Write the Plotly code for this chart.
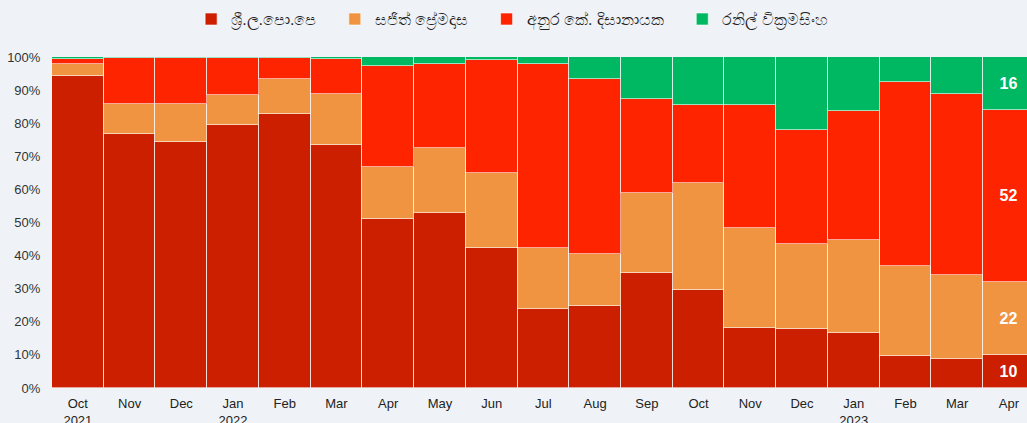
import plotly.graph_objects as go

months = ["Oct<br>2021", "Nov", "Dec", "Jan<br>2022", "Feb", "Mar", "Apr", "May", "Jun",
          "Jul", "Aug", "Sep", "Oct", "Nov", "Dec", "Jan<br>2023", "Feb", "Mar", "Apr"]

series_names = ["ශ්‍රී.ල.පො.පෙ", "සජිත් ප්‍රේමදාස", "අනුර කේ. දිසානායක", "රනිල් වික්‍රමසිංහ"]

slpp = [94.3, 76.7, 74.3, 79.5, 82.7, 73.4, 51.0, 52.9, 42.3, 23.9, 24.8, 34.7, 29.6, 18.1, 17.8, 16.6, 9.7, 8.8, 10]
sajith = [3.6, 9.1, 11.5, 9.0, 10.7, 15.5, 15.8, 19.6, 22.7, 18.4, 15.7, 24.2, 32.3, 30.2, 25.7, 28.1, 27.2, 25.3, 22]
akd = [1.6, 13.9, 13.9, 11.2, 6.3, 10.5, 30.5, 25.3, 34.0, 55.7, 52.9, 28.3, 23.5, 37.1, 34.4, 39.1, 55.5, 54.7, 52]
ranil = [0.5, 0.3, 0.3, 0.3, 0.3, 0.6, 2.7, 2.2, 1.0, 2.0, 6.6, 12.8, 14.6, 14.6, 22.1, 16.2, 7.6, 11.2, 16]

colors = ["#cc1f00", "#f09442", "#ff2400", "#00b862"]
y_ticks = [0, 10, 20, 30, 40, 50, 60, 70, 80, 90, 100]
y_tick_text = [f"{v}%" for v in y_ticks]

x = list(range(len(months)))
fig = go.Figure()
for name, vals, col in zip(series_names, [slpp, sajith, akd, ranil], colors):
    labels = ["" for _ in vals]
    labels[-1] = f"<b>{round(vals[-1])}</b>"
    fig.add_trace(go.Bar(
        x=x, y=vals, name=name + "\u00a0\u00a0\u00a0",
        marker=dict(color=col, line=dict(color="rgba(255,255,255,0.6)", width=1)),
        text=labels, textposition="inside", insidetextanchor="middle",
        textfont=dict(color="white", size=16, family="Liberation Sans"),
        hoverinfo="skip",
    ))

bg = "#eff3f7"
fig.update_layout(
    barmode="stack", bargap=0,
    width=1027, height=423,
    margin=dict(l=52, r=0, t=57, b=35, autoexpand=False),
    paper_bgcolor=bg, plot_bgcolor=bg,
    font=dict(family="Liberation Sans, Arial, sans-serif", size=13, color="#333333"),
    showlegend=True,
    legend=dict(orientation="h", xref="container", x=0.505, xanchor="center",
                yref="container", y=0.995, yanchor="top",
                font=dict(size=16, color="#222222"), itemwidth=30,
                traceorder="normal"),
    uniformtext=dict(mode="show", minsize=10),
)
fig.update_xaxes(tickvals=x, ticktext=months, range=[-0.5, 18.35],
                 showgrid=False, zeroline=False, showline=False, automargin=False,
                 ticks="outside", ticklen=3, tickcolor="rgba(0,0,0,0)",
                 tickfont=dict(size=13, color="#222222"))
fig.update_yaxes(range=[0, 100], tickvals=y_ticks, ticktext=y_tick_text,
                 showgrid=False, zeroline=False, showline=False, automargin=False,
                 ticks="outside", ticklen=8, tickcolor="rgba(0,0,0,0)",
                 tickfont=dict(size=13, color="#333333"))

fig.write_html("out.html", config={"displayModeBar": False},
               post_script="document.body.style.margin='0';document.body.style.overflow='hidden';")
